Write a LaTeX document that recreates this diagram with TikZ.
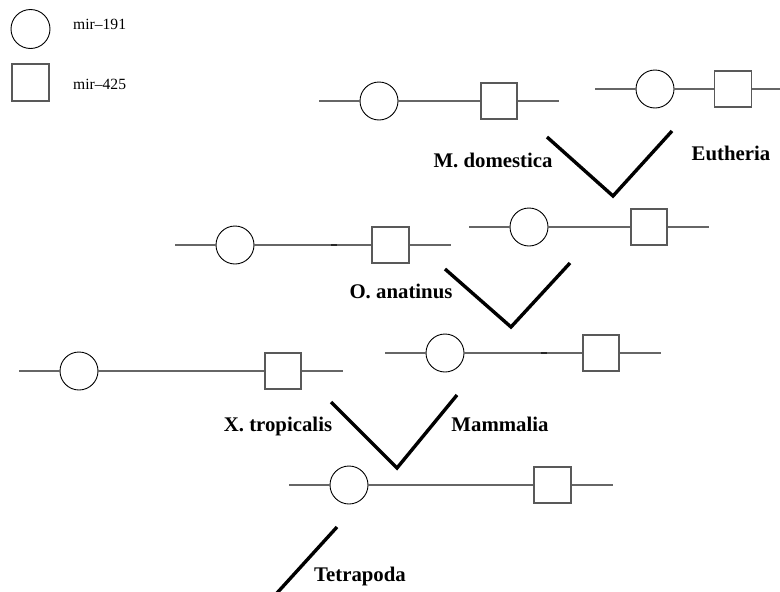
\documentclass[tikz,border=0pt]{standalone}
\usepackage{fontspec}
\setmainfont{Liberation Serif}
\begin{document}
\begin{tikzpicture}[x=1pt,y=-1pt,
  gene/.style={draw=black!60,line width=1.3pt},
  mircirc/.style={circle,draw=black,line width=0.9pt,minimum size=38pt,inner sep=0pt,fill=white},
  mirsq/.style={rectangle,draw=black!65,line width=1.3pt,minimum size=36pt,inner sep=0pt,fill=white},
  vline/.style={draw=black,line width=3.4pt},
  taxon/.style={font=\bfseries\fontsize{20.8}{22}\selectfont,anchor=base,inner sep=0pt},
  legtext/.style={font=\fontsize{15.6}{16}\selectfont,anchor=base west,inner sep=0pt},
  dseg/.style={draw=black!85,line width=1.6pt}]
\useasboundingbox (0,0) rectangle (780,592);
% legend
\node[mircirc,minimum size=39pt] (lc) at (30.5,29) {};
\node[legtext] (lct) at (73,29) {mir–191};
\node[mirsq,minimum size=37pt] (ls) at (30.5,82.5) {};
\node[legtext] (lst) at (73,89) {mir–425};
% row 1 left
\coordinate (r1la) at (319,101); \coordinate (r1lb) at (559,101);
\node[mircirc] (r1lc) at (379,101) {};
\node[mirsq] (r1ls) at (499,101) {};
\draw[gene] (r1la) -- (r1lc); \draw[gene] (r1lc) -- (r1ls); \draw[gene] (r1ls) -- (r1lb);
% row 1 right
\coordinate (r1ra) at (595,89); \coordinate (r1rb) at (780,89);
\node[mircirc] (r1rc) at (655,89) {};
\node[mirsq,minimum width=37pt] (r1rs) at (733,89) {};
\draw[gene] (r1ra) -- (r1rc); \draw[gene] (r1rc) -- (r1rs); \draw[gene] (r1rs) -- (r1rb);
% row 2 left
\coordinate (r2la) at (175,245); \coordinate (r2lb) at (451,245);
\node[mircirc] (r2lc) at (235,245) {};
\node[mirsq,minimum width=37pt] (r2ls) at (390.5,245) {};
\draw[gene] (r2la) -- (r2lc); \draw[gene] (r2lc) -- (r2ls); \draw[gene] (r2ls) -- (r2lb);
\coordinate (r2ld1) at (331,245); \coordinate (r2ld2) at (337,245);
\draw[dseg] (r2ld1) -- (r2ld2);
% row 2 right
\coordinate (r2ra) at (469,227); \coordinate (r2rb) at (709,227);
\node[mircirc] (r2rc) at (529,227) {};
\node[mirsq] (r2rs) at (649,227) {};
\draw[gene] (r2ra) -- (r2rc); \draw[gene] (r2rc) -- (r2rs); \draw[gene] (r2rs) -- (r2rb);
% row 3 left
\coordinate (r3la) at (19,371); \coordinate (r3lb) at (343,371);
\node[mircirc] (r3lc) at (79,371) {};
\node[mirsq] (r3ls) at (283,371) {};
\draw[gene] (r3la) -- (r3lc); \draw[gene] (r3lc) -- (r3ls); \draw[gene] (r3ls) -- (r3lb);
% row 3 right
\coordinate (r3ra) at (385,353); \coordinate (r3rb) at (661,353);
\node[mircirc] (r3rc) at (445,353) {};
\node[mirsq] (r3rs) at (601,353) {};
\draw[gene] (r3ra) -- (r3rc); \draw[gene] (r3rc) -- (r3rs); \draw[gene] (r3rs) -- (r3rb);
\coordinate (r3rd1) at (541,353); \coordinate (r3rd2) at (547,353);
\draw[dseg] (r3rd1) -- (r3rd2);
% row 4
\coordinate (r4a) at (289,485); \coordinate (r4b) at (613,485);
\node[mircirc] (r4c) at (349,485) {};
\node[mirsq,minimum width=37pt] (r4s) at (552.5,485) {};
\draw[gene] (r4a) -- (r4c); \draw[gene] (r4c) -- (r4s); \draw[gene] (r4s) -- (r4b);
% V shapes
\coordinate (v1a) at (547,137); \coordinate (v1m) at (613,196); \coordinate (v1b) at (672,131);
\draw[vline] (v1a) -- (v1m) -- (v1b);
\coordinate (v2a) at (445,269); \coordinate (v2m) at (511,327); \coordinate (v2b) at (570,263);
\draw[vline] (v2a) -- (v2m) -- (v2b);
\coordinate (v3a) at (331,402); \coordinate (v3m) at (397,468); \coordinate (v3b) at (457,395);
\draw[vline] (v3a) -- (v3m) -- (v3b);
\coordinate (t1) at (337,527); \coordinate (t2) at (277,593);
\draw[vline] (t1) -- (t2);
% labels
\node[taxon] (lmd) at (493,167) {M. domestica};
\node[taxon] (leu) at (731,160) {Eutheria};
\node[taxon] (loa) at (401,298) {O. anatinus};
\node[taxon] (lxt) at (278,431) {X. tropicalis};
\node[taxon] (lma) at (500,431) {Mammalia};
\node[taxon] (lte) at (360,581) {Tetrapoda};
\end{tikzpicture}
\end{document}
